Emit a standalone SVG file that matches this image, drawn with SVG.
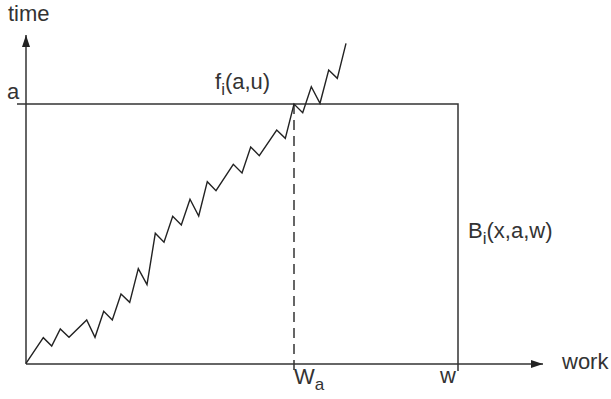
<svg xmlns="http://www.w3.org/2000/svg" width="611" height="399" viewBox="0 0 611 399">
<style>
.ax{stroke:#333;stroke-width:1.5;fill:none}
.ln{stroke:#222;stroke-width:1.4;fill:none;stroke-linejoin:miter}
.t{font-family:"Liberation Sans",Arial,sans-serif;font-size:22px;fill:#333}
.s{font-size:17px}
</style>
<defs>
<marker id="ah" markerWidth="12" markerHeight="8" refX="12" refY="4" orient="auto" markerUnits="userSpaceOnUse">
<path d="M0,0 L12,4 L0,8 Z" fill="#222"/>
</marker>
</defs>
<g id="connectors">
<line class="ax" x1="26" y1="364" x2="26" y2="35" marker-end="url(#ah)"/>
<line class="ax" x1="26" y1="364" x2="543" y2="364" marker-end="url(#ah)"/>
<polyline class="ax" points="17,104 458,104 458,371"/>
<line class="ax" x1="294" y1="104" x2="294" y2="372" stroke-dasharray="10,6"/>
<polyline class="ln" points="26,363.3 43.3,337.7 51.7,346 60.3,329 69,337.3 86.7,320 95,337.3 103.7,311.3 112.3,320 121,294 129.7,302.3 138.3,268.7 147,284.7 155.3,233.3 164,242.3 172.7,216.3 181.3,225 190,199.3 198.7,216 207.3,181.7 216,190.7 233.3,164.3 242,173 250.7,147 259.3,155.7 276.7,130 285.3,138.3 294,104 302.7,112.7 311.3,86.7 320,103.3 328.7,70 337.3,78.3 346,43.3"/>
</g>
<g id="labels">
<text class="t" x="8" y="21">time</text>
<text class="t" x="7" y="99">a</text>
<text class="t" x="215" y="89">f<tspan class="s" dy="6">i</tspan><tspan dy="-6">(a,u)</tspan></text>
<text class="t" x="468" y="238">B<tspan class="s" dy="6">i</tspan><tspan dy="-6">(x,a,w)</tspan></text>
<text class="t" x="294" y="384">W<tspan class="s" dy="6">a</tspan></text>
<text class="t" x="440" y="383">w</text>
<text class="t" x="562" y="369">work</text>
</g>
</svg>
